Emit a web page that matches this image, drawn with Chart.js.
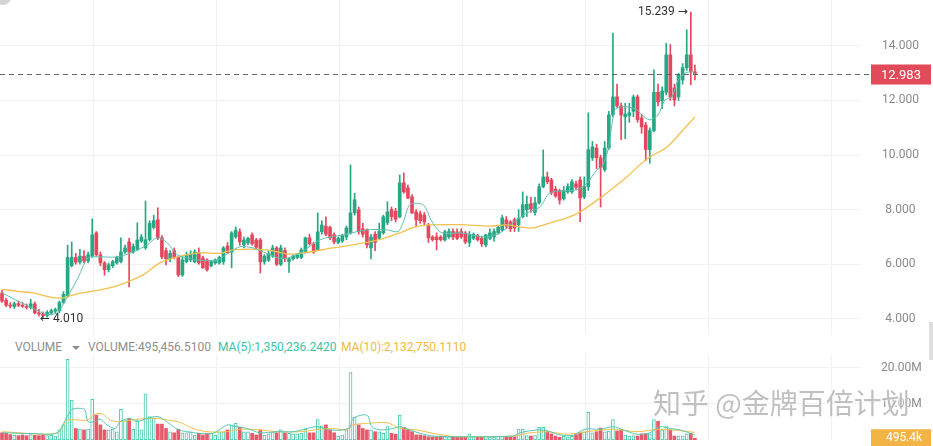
<!DOCTYPE html>
<html>
<head>
<meta charset="utf-8">
<script src="https://cdn.jsdelivr.net/npm/chart.js@4.4.1/dist/chart.umd.min.js"></script>
<style>
  html, body { margin: 0; padding: 0; background: #fff; }
  #wrap { position: relative; width: 933px; height: 446px; overflow: hidden; font-family: Roboto, "Noto Sans", sans-serif; }
  #pricePane { position: absolute; left: 0; top: 0; width: 933px; height: 340px; }
  #volPane { position: absolute; left: 0; top: 355px; width: 933px; height: 91px; }
  .hdr { position: absolute; top: 340px; font-size: 12px; line-height: 14px; white-space: nowrap; color: #8e8e8e; }
  #caret { position: absolute; left: 72px; top: 346px; width: 0; height: 0; border-left: 4px solid transparent; border-right: 4px solid transparent; border-top: 4px solid #8e8e8e; }
  #mark { position: absolute; left: 653px; top: 385px; font-size: 28px; line-height: 34px; white-space: nowrap;
          font-family: "Noto Sans CJK SC", sans-serif; color: rgba(140,140,140,0.55); text-shadow: 0 0 2px #fff, 0 0 3px #fff; }
  #dot { position: absolute; left: -5px; top: -11px; width: 16px; height: 16px; border-radius: 50%; background: #d4d4d4; }
  #bar { position: absolute; left: 929px; top: 322px; width: 4px; height: 38px; background: #dedede; }
</style>
</head>
<body>
<div id="wrap">
  <div id="pricePane"><canvas id="priceChart"></canvas></div>
  <div id="volPane"><canvas id="volChart"></canvas></div>
  <div class="hdr" style="left:15px">VOLUME</div>
  <div id="caret"></div>
  <div class="hdr" id="h0" style="left:88px"></div>
  <div class="hdr" id="h1" style="left:218px;color:#3ec4a5"></div>
  <div class="hdr" id="h2" style="left:341px;color:#f1b93e"></div>
  <div id="mark">知乎 @金牌百倍计划</div>
  <div id="dot"></div>
  <div id="bar"></div>
</div>
<script>
// daily candles, oldest first
const candleOpen = [4.95,4.68,4.50,4.45,4.56,4.50,4.45,4.42,4.55,4.22,
  4.18,4.12,4.22,4.28,4.30,4.60,4.85,5.95,6.25,6.08,
  6.30,6.12,6.30,7.15,6.35,6.05,5.80,5.95,6.05,6.10,
  6.45,6.82,6.45,6.55,6.85,6.60,6.90,7.35,7.63,6.97,
  6.50,6.20,6.50,6.25,5.61,6.10,6.16,6.09,6.42,6.23,
  6.16,5.95,6.05,6.05,6.09,6.67,6.45,7.00,7.19,6.71,
  6.78,7.08,6.89,6.89,6.09,6.15,6.30,6.60,6.00,6.50,
  6.10,6.20,6.25,6.25,6.45,6.97,6.75,6.53,7.19,7.40,
  7.35,7.08,6.80,6.85,7.00,7.15,7.88,7.99,7.30,7.26,
  6.60,7.10,6.95,7.15,7.52,8.00,7.95,7.74,8.98,8.80,
  8.47,7.92,7.85,7.80,7.44,7.00,7.00,7.00,6.89,7.00,
  7.20,7.18,7.20,7.15,6.80,6.95,7.05,6.95,6.71,6.95,
  7.00,7.15,7.26,7.63,7.55,7.63,7.45,7.74,8.00,8.22,
  7.90,8.25,8.84,9.20,9.09,8.75,8.70,8.40,8.65,8.65,
  8.95,9.09,8.47,8.84,9.90,10.26,9.90,9.46,10.26,11.47,
  12.13,11.80,11.40,11.45,11.60,12.13,11.36,11.10,10.20,10.90,
  12.30,12.00,12.30,13.67,12.46,12.13,12.75,13.20,13.67,13.05];
const candleHigh = [5.05,4.75,4.60,4.62,4.65,4.60,4.55,4.72,4.62,4.35,
  4.26,4.30,4.36,4.40,4.66,5.00,6.70,6.82,6.40,6.55,
  6.50,6.45,7.66,7.20,6.45,6.10,6.05,6.15,6.30,6.97,
  6.70,6.95,6.75,7.52,7.10,8.32,7.60,7.80,8.07,7.05,
  6.60,6.50,6.60,6.30,6.30,6.45,6.50,6.53,6.60,6.30,
  6.20,6.15,6.20,6.30,6.65,6.80,7.20,7.37,7.30,7.00,
  7.00,7.15,6.95,6.95,6.35,6.50,6.70,6.65,6.70,6.60,
  6.25,6.35,6.40,6.60,7.00,7.10,6.80,7.88,7.60,7.74,
  7.40,7.15,7.00,7.10,7.40,9.64,8.60,8.10,7.50,7.30,
  7.10,7.20,7.50,7.80,8.29,8.10,8.05,9.27,9.35,8.90,
  8.55,8.00,7.95,7.90,7.50,7.05,7.15,7.05,7.25,7.30,
  7.30,7.30,7.30,7.20,7.20,7.15,7.10,7.00,7.10,7.30,
  7.30,7.40,7.80,7.75,7.60,7.70,8.00,8.65,8.50,8.45,
  8.45,8.95,10.19,9.38,9.15,8.85,8.75,8.85,8.95,9.10,
  9.05,9.20,9.20,11.55,10.50,10.40,10.00,10.50,11.60,14.47,
  12.60,11.90,11.90,11.90,12.20,12.20,11.50,11.20,11.00,13.12,
  12.60,12.50,14.10,14.05,12.60,13.00,13.35,14.59,15.239,13.30];
const candleLow = [4.60,4.45,4.40,4.38,4.45,4.42,4.36,4.36,4.18,4.10,
  4.01,4.06,4.15,4.20,4.22,4.55,4.80,5.90,6.00,6.00,
  6.05,6.05,6.25,6.30,5.95,5.60,5.72,5.88,6.00,6.05,
  6.40,5.17,6.40,6.50,6.80,6.55,6.85,7.30,6.90,6.20,
  5.98,6.10,6.20,5.55,5.55,6.05,6.10,6.05,6.00,5.85,
  5.75,5.90,6.00,6.00,6.00,6.40,5.87,6.95,6.70,6.60,
  6.72,6.70,6.55,5.68,6.00,6.10,6.25,5.95,5.95,6.10,
  5.70,6.15,6.20,6.20,6.40,6.70,6.40,6.50,7.10,7.05,
  6.90,6.75,6.75,6.80,6.90,7.10,7.80,7.10,7.00,6.60,
  6.20,6.50,6.90,7.10,7.45,7.60,7.55,7.70,8.60,8.40,
  7.85,7.40,7.50,7.45,6.80,6.85,6.53,6.85,6.85,6.95,
  6.90,6.90,6.95,6.75,6.65,6.90,6.85,6.65,6.64,6.90,
  6.85,7.10,7.20,7.30,7.20,7.20,7.20,7.70,7.75,7.90,
  7.80,8.20,8.80,8.95,8.55,8.45,8.20,8.35,8.60,8.60,
  8.75,7.56,8.40,8.70,9.80,9.50,8.10,9.40,10.20,11.40,
  11.75,10.56,10.60,11.20,11.40,11.20,10.80,9.80,9.70,10.85,
  11.80,11.70,12.20,12.00,11.80,12.00,12.60,13.10,12.57,12.75];
const candleClose = [4.65,4.50,4.47,4.56,4.50,4.46,4.42,4.55,4.22,4.18,
  4.12,4.24,4.30,4.34,4.60,4.90,6.25,6.25,6.08,6.30,
  6.12,6.35,7.08,6.35,6.05,5.80,5.98,6.10,6.25,6.45,
  6.60,6.45,6.65,6.89,7.00,6.90,7.50,7.60,6.97,6.27,
  6.20,6.40,6.25,5.61,6.16,6.35,6.38,6.45,6.05,5.87,
  5.80,6.10,6.16,6.25,6.60,6.42,7.15,7.25,6.82,6.89,
  6.95,6.75,6.62,6.09,6.30,6.40,6.60,6.00,6.60,6.20,
  6.20,6.30,6.35,6.53,6.97,6.75,6.45,7.19,7.44,7.10,
  6.97,6.82,6.95,7.05,7.33,7.88,8.36,7.19,7.10,6.71,
  7.00,6.80,7.20,7.74,7.92,7.74,7.65,8.98,8.65,8.43,
  7.88,7.63,7.60,7.55,6.97,6.90,6.90,6.90,7.19,7.20,
  7.00,6.95,7.00,6.82,7.10,7.10,6.90,6.75,7.08,7.15,
  7.20,7.35,7.70,7.40,7.30,7.33,7.68,8.18,8.20,8.02,
  8.25,8.84,9.20,9.02,8.62,8.50,8.35,8.70,8.85,9.02,
  8.82,8.43,8.84,10.20,10.30,9.90,9.53,10.26,11.47,12.13,
  11.80,11.47,11.50,11.55,12.13,11.30,11.03,10.20,10.90,12.30,
  11.95,12.35,13.67,12.13,12.02,12.94,13.20,13.67,13.05,12.983];
// volume in millions
const volumeM = [2.0,1.9,1.5,1.3,1.2,1.4,1.2,1.5,1.3,1.2,
  1.4,1.2,1.3,1.1,2.8,4.2,22.4,11.1,3.2,3.0,
  2.8,3.0,11.3,6.9,4.2,2.8,2.8,3.0,2.3,8.5,
  5.4,5.8,3.0,5.4,2.8,12.8,6.5,6.0,4.4,4.4,
  3.2,2.3,2.0,3.0,2.0,2.0,2.3,1.4,1.85,1.4,
  1.85,1.85,1.4,2.3,2.3,2.8,4.2,4.6,3.5,2.3,
  2.3,1.85,1.4,2.8,1.4,1.7,2.3,2.0,2.8,2.0,
  1.85,1.7,1.7,1.9,3.0,2.0,2.0,5.7,3.9,4.2,
  2.8,2.0,1.1,1.4,2.8,18.7,6.3,4.2,3.2,2.8,
  2.8,2.3,2.3,1.85,3.7,1.85,1.6,6.9,3.5,3.0,
  2.3,1.4,1.4,1.2,0.9,0.9,0.9,1.1,0.9,0.9,
  0.9,0.8,0.8,0.75,1.7,0.9,0.8,0.8,1.0,0.9,
  0.8,1.0,1.1,1.0,0.9,0.9,3.0,3.0,1.2,1.1,
  1.2,3.5,3.5,2.3,1.7,1.1,0.75,1.1,0.9,1.0,
  1.5,2.0,2.3,7.7,2.0,2.3,3.3,2.3,2.5,5.7,
  2.5,2.8,1.4,1.1,1.2,1.1,1.7,1.7,1.7,5.7,
  5.2,2.8,3.7,2.8,1.1,1.1,1.1,1.7,1.85,0.495457];

// moving average lines (candle index, value)
const priceMa5Idx = [0,4.4,9.3,11.7,13.7,15.9,18.3,21,23.9,28,32,35.4,37.8,40.2,42.7,45.1,48.3,52.4,55.6,58,61.2,64.6,68.5,72.7,77.6,83.2,89,93.9,96.6,98,99.5,102.7,104.9,107.3,111.7,118.3,121.5,124.6,128,131.2,133.7,140.2,142.7,145.1,146.3,147.8,149.5,151.2,154.4,156.1,158,160,161.7,163.4,164.9,166.6,168.3,169];
const priceMa5Val = [4.95,4.62,4.26,4.15,4.26,4.8,5.43,6.23,6.27,6.27,6.45,6.71,6.97,6.8,6.35,6.23,6.15,6.15,6.45,6.64,6.6,6.4,6.2,6.42,6.9,7.08,7.26,7.26,7.2,7.6,8.18,8.18,7.55,7.15,7.15,7.0,7.15,7.52,7.88,8.1,8.62,8.73,8.98,9.46,9.57,10.19,11.66,11.77,11.7,11.47,11.29,11.47,12.02,12.13,12.75,13.0,13.05,12.98];
const priceMa30Idx = [0,4.4,7.6,11.7,14.9,18.3,23.9,28.8,34.4,38.5,42.7,48.3,53.2,56.3,64.6,69.5,72.7,80.7,86,89,91.7,97,100,104,111.7,119,123.2,126.3,129.5,133.7,137.8,141,145.9,149.5,152.4,155.6,158,162.2,166.1,169];
const priceMa30Val = [5.08,5.0,4.95,4.8,4.77,4.92,5.06,5.25,5.61,6.05,6.27,6.42,6.4,6.53,6.53,6.38,6.4,6.6,6.72,6.8,6.89,7.15,7.33,7.44,7.45,7.4,7.44,7.37,7.33,7.52,7.7,7.92,8.43,8.85,9.2,9.65,9.93,10.3,10.92,11.4];
const volMa5Idx = [0,7.6,13.4,15.9,17.1,19,20.2,21,22.7,23.9,25.6,27.6,28.8,31.2,32.9,35.4,38,40.2,42.7,45.1,48.3,51.5,54.9,56.3,59.8,62.9,67.1,71,74.4,76.8,80,83.2,84.9,85.6,89,90.2,92.2,95.4,97.1,99.5,102,105.1,111.7,124.6,126.3,130.5,132.9,136.1,139.3,142.2,145.9,149,151.5,154.9,158,160.5,162.9,165.4,169];
const volMa5Val = [2.0,1.8,2.0,6.5,8.5,8.8,8.4,5.1,5.1,5.8,4.2,3.2,5.1,6.0,5.1,6.0,6.5,5.1,3.0,2.3,1.85,1.85,4.2,3.9,3.2,2.0,2.3,2.3,3.2,3.7,2.8,2.8,3.7,6.0,6.9,3.7,2.8,3.2,3.7,2.8,1.85,1.1,0.9,1.1,2.0,2.8,2.6,1.4,1.3,3.0,3.0,3.7,2.8,1.6,2.0,3.7,3.2,2.8,1.35];
const volMa10Idx = [0,13.4,15.9,18.3,20.7,22.7,24.6,26.3,28.8,32,35.4,37.8,40.2,43.4,46.6,50,54.9,58,62.9,67.1,72.7,77.6,80.7,84.1,85.6,89,93.9,97.1,101.2,105.1,109.3,111.7,124.6,128,132.9,137.8,142.7,149,154.9,160.5,169];
const volMa10Val = [2.3,1.85,5.4,5.6,5.4,7.2,7.2,5.6,5.1,5.6,6.0,6.0,5.6,4.9,3.2,2.3,2.3,3.0,2.8,2.3,2.3,3.0,3.2,2.8,4.2,4.6,4.8,3.2,2.8,1.85,1.1,0.9,1.1,1.85,2.3,1.6,2.3,3.0,2.3,3.0,2.13];

const priceTicks = [4, 6, 8, 10, 12, 14];
const volTicks = [10, 20];
const xGridIdx = [22.3, 52.3, 82.3, 112.3, 142.3, 172.3, 202.3];
const volumeHeader = ['VOLUME:495,456.5100', 'MA(5):1,350,236.2420', 'MA(10):2,132,750.1110'];

const UP = '#26a885', DOWN = '#e5485e';
const VOL_UP = '#45c9ad', VOL_DOWN = '#e75a6b';
const X_MIN = -0.49, X_MAX = 209.26;

document.getElementById('h0').textContent = volumeHeader[0];
document.getElementById('h1').textContent = volumeHeader[1];
document.getElementById('h2').textContent = volumeHeader[2];

Chart.defaults.font.family = 'Roboto, "DejaVu Sans"';
Chart.defaults.font.size = 12;

const idx = candleClose.map((c, i) => i);
const isUp = idx.map(i => candleClose[i] >= candleOpen[i]);

function pts(xs, ys) {
  return xs.map((x, k) => ({ x: x, y: ys[k] }));
}

function xAxis() {
  return {
    type: 'linear', min: X_MIN, max: X_MAX, offset: false,
    grid: { color: '#f1f1f1', drawTicks: false, offset: false },
    border: { display: false },
    ticks: { display: false },
    afterBuildTicks: s => { s.ticks = xGridIdx.map(v => ({ value: v })); },
    afterFit: s => { s.height = 0; }
  };
}

function yAxis(min, max, tickVals, fmt, pad) {
  return {
    type: 'linear', position: 'right', min: min, max: max,
    grid: { color: '#f1f1f1', drawTicks: false },
    border: { display: false },
    ticks: { color: '#8a8a8a', crossAlign: 'center', padding: pad, callback: fmt },
    afterBuildTicks: s => { s.ticks = tickVals.map(v => ({ value: v })); },
    afterFit: s => { s.width = 73; s.paddingTop = 0; s.paddingBottom = 0; }
  };
}

// last price line and label, high / low marks
const priceMarks = {
  id: 'priceMarks',
  afterDatasetsDraw(chart) {
    const { ctx, chartArea, scales: { x, y } } = chart;
    const last = candleClose[candleClose.length - 1];
    const yl = Math.round(y.getPixelForValue(last)) + 0.5;
    ctx.save();
    ctx.strokeStyle = '#666';
    ctx.lineWidth = 1;
    ctx.setLineDash([5, 4]);
    ctx.beginPath();
    ctx.moveTo(chartArea.left, yl);
    ctx.lineTo(chartArea.right + 10, yl);
    ctx.stroke();
    ctx.setLineDash([]);
    ctx.fillStyle = '#e04a59';
    ctx.fillRect(chartArea.right + 11, yl - 10, 60, 20);
    ctx.fillStyle = '#fff';
    ctx.font = '13px Roboto';
    ctx.textAlign = 'center';
    ctx.textBaseline = 'middle';
    ctx.fillText(last.toFixed(3), chartArea.right + 41, yl + 1);

    const hi = Math.max(...candleHigh), lo = Math.min(...candleLow);
    const hiI = candleHigh.indexOf(hi), loI = candleLow.indexOf(lo);
    ctx.fillStyle = '#333';
    ctx.font = '12px Roboto, "DejaVu Sans"';
    ctx.textAlign = 'right';
    ctx.fillText(hi.toFixed(3) + ' \u2192', x.getPixelForValue(hiI) - 3, y.getPixelForValue(hi));
    ctx.textAlign = 'left';
    ctx.fillText('\u2190 ' + lo.toFixed(3), x.getPixelForValue(loI) - 3, y.getPixelForValue(lo));
    ctx.restore();
  }
};

const volMarks = {
  id: 'volMarks',
  afterDatasetsDraw(chart) {
    const { ctx, chartArea, scales: { y } } = chart;
    const v = volumeM[volumeM.length - 1];
    const yv = y.getPixelForValue(v);
    ctx.save();
    ctx.fillStyle = '#f2b545';
    ctx.fillRect(chartArea.right + 11, yv - 9, 60, 17);
    ctx.fillStyle = '#fff';
    ctx.font = '12px Roboto';
    ctx.textAlign = 'center';
    ctx.textBaseline = 'middle';
    ctx.fillText((Math.floor(v * 10000) / 10).toFixed(1) + 'k', chartArea.right + 44, yv);
    ctx.restore();
  }
};

new Chart(document.getElementById('priceChart'), {
  type: 'bar',
  data: {
    datasets: [
      {
        type: 'line', data: pts(priceMa5Idx, priceMa5Val), borderColor: '#5fbfb0',
        borderWidth: 1, pointRadius: 0, tension: 0.3, order: 0
      },
      {
        type: 'line', data: pts(priceMa30Idx, priceMa30Val), borderColor: '#f2c14e',
        borderWidth: 1.3, pointRadius: 0, tension: 0.3, order: 0
      },
      {
        data: idx.map(i => ({ x: i, y: [candleOpen[i], candleClose[i]] })),
        backgroundColor: idx.map(i => isUp[i] ? UP : DOWN),
        barThickness: 3, minBarLength: 1, grouped: false, order: 1
      },
      {
        data: idx.map(i => ({ x: i, y: [candleLow[i], candleHigh[i]] })),
        backgroundColor: idx.map(i => isUp[i] ? UP : DOWN),
        barThickness: 1, grouped: false, order: 2
      }
    ]
  },
  options: {
    responsive: true, maintainAspectRatio: false, animation: false,
    layout: { padding: { top: 0, bottom: 5, left: 0, right: 0 } },
    plugins: { legend: { display: false }, tooltip: { enabled: false } },
    scales: {
      x: xAxis(),
      y: yAxis(3.41, 15.68, priceTicks, v => v.toFixed(3), 22)
    }
  },
  plugins: [priceMarks]
});

new Chart(document.getElementById('volChart'), {
  type: 'bar',
  data: {
    datasets: [
      {
        type: 'line', data: pts(volMa5Idx, volMa5Val), borderColor: '#56c7b3',
        borderWidth: 1, pointRadius: 0, tension: 0.3, order: 0
      },
      {
        type: 'line', data: pts(volMa10Idx, volMa10Val), borderColor: '#f3c04a',
        borderWidth: 1, pointRadius: 0, tension: 0.3, order: 0
      },
      {
        data: idx.map(i => ({ x: i, y: volumeM[i] })),
        backgroundColor: idx.map(i => isUp[i] ? '#ffffff' : VOL_DOWN),
        borderColor: idx.map(i => isUp[i] ? VOL_UP : VOL_DOWN),
        borderWidth: idx.map(i => isUp[i] ? 1 : 0),
        borderSkipped: false,
        barThickness: 3, grouped: false, order: 1
      }
    ]
  },
  options: {
    responsive: true, maintainAspectRatio: false, animation: false,
    layout: { padding: { top: 0, bottom: 6, left: 0, right: 0 } },
    plugins: { legend: { display: false }, tooltip: { enabled: false } },
    scales: {
      x: xAxis(),
      y: yAxis(0, 23.6, volTicks, v => v.toFixed(2) + 'M', 21)
    }
  },
  plugins: [volMarks]
});
</script>
</body>
</html>
